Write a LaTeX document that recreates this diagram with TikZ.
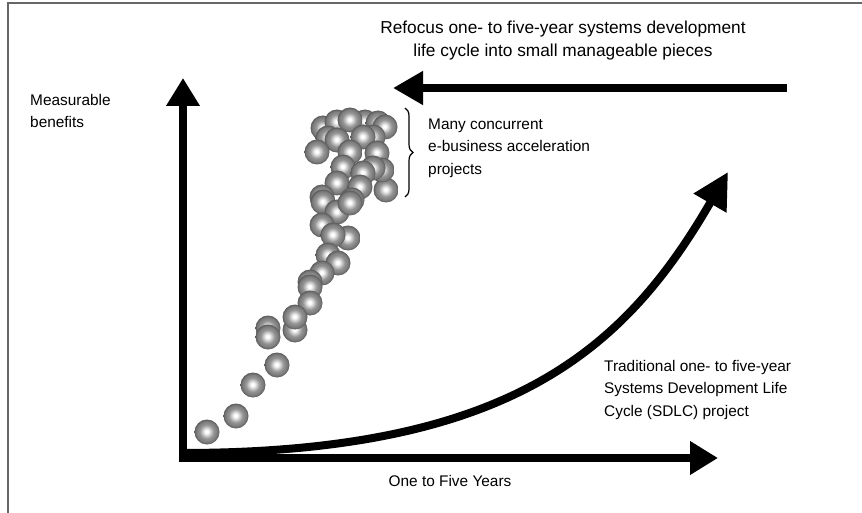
\documentclass[tikz,border=0pt]{standalone}
\usepackage{fontspec}
\setmainfont{Liberation Sans}
\usepackage{tikz}
\usetikzlibrary{arrows.meta,decorations.pathreplacing}

\pgfdeclareradialshading{sphere}{\pgfpoint{-1bp}{1bp}}{%
  color(0bp)=(white); color(3bp)=(white); color(14bp)=(black!42);
  color(21bp)=(black!52); color(25bp)=(black!66); color(50bp)=(black!66)}

\begin{document}
\begin{tikzpicture}[
    x=1pt, y=-1pt,
    font=\fontsize{15.4}{22.5}\selectfont,
    txt/.style={inner sep=0pt, align=left},
    frame/.style={draw=black!60, line width=1.6pt},
    axis/.style={line width=8pt, -{Triangle[length=28pt,width=32pt]}},
    bigcurve/.style={line width=8pt, -{Triangle[length=36pt,width=36pt]}},
    ball/.style={shading=sphere}
]
\useasboundingbox (0,0) rectangle (862,513);

% Frame
\draw[frame] (8,513) -- (8,3) -- (862,3);

% Axes
\coordinate (ybase) at (183,462);
\coordinate (xbase) at (179,458);
\coordinate (ytip) at (183,78);
\coordinate (xtip) at (718,458);
\draw[axis] (ybase) -- (ytip);
\draw[axis] (xbase) -- (xtip);

% Refocus arrow
\coordinate (rstart) at (787,88);
\coordinate (rtip) at (393,88);
\draw[axis, -{Triangle[length=30pt,width=32pt]}] (rstart) -- (rtip);

% SDLC curve
\coordinate (cstart) at (186,453);
\coordinate (ctip) at (728,172);
\draw[bigcurve] (cstart) .. controls (510,452) and (625,350) .. (ctip);

% Labels
\node[txt, align=center, font=\fontsize{17.3}{23}\selectfont] (refocus) at (563,41)
  {Refocus one- to five-year systems development\\life cycle into small manageable pieces};
\node[txt, anchor=west] (benefits) at (30,111) {Measurable\\benefits};
\node[txt, anchor=west] (projects) at (428,148) {Many concurrent\\e-business acceleration\\projects};
\node[txt, anchor=west] (sdlc) at (604,390) {Traditional one- to five-year\\Systems Development Life\\Cycle (SDLC) project};
\node[txt] (years) at (450,481) {One to Five Years};

% Brace
\coordinate (btop) at (405,108);
\coordinate (bbot) at (405,197);
\draw[line width=1.2pt, decorate, decoration={brace, amplitude=8pt}] (btop) -- (bbot);

% Balls
\foreach \bx/\by in {323/128, 337/122, 365/122, 378/123, 385/127, 350/120,
    328/138, 337/140, 373/137, 363/137, 386/190,
    317/152, 350/152, 377/153,
    382/170, 373/168, 343/167, 363/173,
    337/183, 360/187,
    322/197, 352/200, 323/202, 337/212,
    350/203, 322/225, 348/238, 333/235,
    328/255, 338/263, 322/273, 310/282, 310/287, 310/303,
    295/330, 295/317, 268/328, 268/337, 277/365, 253/385, 236/416, 207/432}
  \shade[ball] (\bx,\by) circle (12.5);

\end{tikzpicture}
\end{document}
